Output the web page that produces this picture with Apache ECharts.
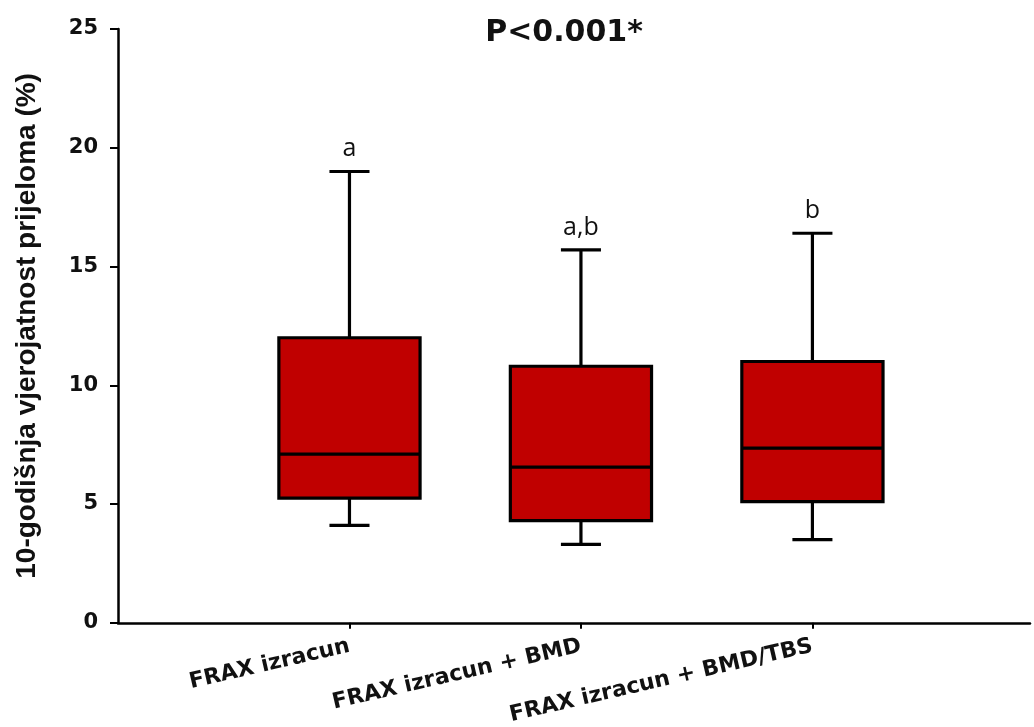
<!DOCTYPE html>
<html>
<head>
<meta charset="utf-8">
<script src="https://cdn.jsdelivr.net/npm/echarts@6/dist/echarts.min.js"></script>
<style>
html,body{margin:0;padding:0;background:#fff;}
#chart{width:1034px;height:727px;}
</style>
</head>
<body>
<div id="chart"></div>
<script>
// ---- data ----
var categories = ['FRAX izracun', 'FRAX izracun + BMD', 'FRAX izracun + BMD/TBS'];
var positions = [1, 2, 3];
var whiskerLow = [4.1, 3.3, 3.5];
var q1 = [5.25, 4.3, 5.1];
var median = [7.1, 6.55, 7.35];
var q3 = [12.0, 10.8, 11.0];
var whiskerHigh = [19.0, 15.7, 16.4];
var groupLetters = ['a', 'a,b', 'b'];
var yTicks = [0, 5, 10, 15, 20, 25];
var titleText = 'P<0.001*';
var yName = '10-godi\u0161nja vjerojatnost prijeloma (%)';

var boxData = positions.map(function (p, i) {
  return [p, whiskerLow[i], q1[i], median[i], q3[i], whiskerHigh[i]];
});

var BOX_FRAC = 0.61;
var CAP_FRAC = 0.173;
var LINE_W = 3.2;

var chart = echarts.init(document.getElementById('chart'));
var option = {
  backgroundColor: '#ffffff',
  animation: false,
  graphic: [{
    type: 'text',
    x: 564, y: 33,
    style: {
      text: titleText,
      font: 'bold 30px "DejaVu Sans", sans-serif',
      fill: '#111',
      textAlign: 'center',
      textVerticalAlign: 'middle'
    }
  }],
  grid: { left: 118, right: 4, top: 29, bottom: 104, containLabel: false },
  xAxis: {
    type: 'value',
    min: 0,
    max: 3.94,
    splitLine: { show: false },
    axisLine: { show: true, onZero: false, lineStyle: { color: '#000', width: 2.5 } },
    axisTick: { show: true, customValues: positions, length: 6, lineStyle: { color: '#000', width: 2 } },
    axisLabel: {
      show: true,
      customValues: positions,
      rotate: 13,
      margin: 23,
      fontFamily: '"DejaVu Sans", sans-serif',
      fontWeight: 'bold',
      fontSize: 22,
      color: '#111',
      formatter: function (v) { return categories[Math.round(v) - 1] || ''; }
    }
  },
  yAxis: {
    type: 'value',
    min: 0,
    max: 25,
    interval: 5,
    name: yName,
    nameLocation: 'middle',
    nameGap: 77,
    nameRotate: 90,
    nameTextStyle: {
      fontFamily: '"Liberation Sans", Arial, sans-serif',
      fontWeight: 'bold',
      fontSize: 28,
      color: '#111'
    },
    splitLine: { show: false },
    axisLine: { show: true, onZero: false, lineStyle: { color: '#000', width: 2.5 } },
    axisTick: { show: true, length: 8, lineStyle: { color: '#000', width: 2 } },
    axisLabel: {
      margin: 20,
      fontFamily: '"DejaVu Sans", sans-serif',
      fontWeight: 'bold',
      fontSize: 21,
      color: '#111',
      customValues: yTicks
    }
  },
  series: [{
    type: 'custom',
    clip: false,
    encode: { x: 0, y: [1, 2, 3, 4, 5] },
    data: boxData,
    renderItem: function (params, api) {
      var x = api.value(0);
      var pMin = api.coord([x, api.value(1)]);
      var pQ1 = api.coord([x, api.value(2)]);
      var pMed = api.coord([x, api.value(3)]);
      var pQ3 = api.coord([x, api.value(4)]);
      var pMax = api.coord([x, api.value(5)]);
      var unit = api.size([1, 0])[0];
      var bw = unit * BOX_FRAC;
      var cw = unit * CAP_FRAC;
      var cx = pMed[0];
      var ls = { stroke: '#000', lineWidth: LINE_W };
      return {
        type: 'group',
        children: [
          { type: 'line', shape: { x1: cx, y1: pQ3[1], x2: cx, y2: pMax[1] }, style: ls },
          { type: 'line', shape: { x1: cx, y1: pQ1[1], x2: cx, y2: pMin[1] }, style: ls },
          { type: 'line', shape: { x1: cx - cw / 2, y1: pMax[1], x2: cx + cw / 2, y2: pMax[1] }, style: ls },
          { type: 'line', shape: { x1: cx - cw / 2, y1: pMin[1], x2: cx + cw / 2, y2: pMin[1] }, style: ls },
          {
            type: 'rect',
            shape: { x: cx - bw / 2, y: pQ3[1], width: bw, height: pQ1[1] - pQ3[1] },
            style: { fill: '#c00000', stroke: '#000', lineWidth: LINE_W }
          },
          { type: 'line', shape: { x1: cx - bw / 2, y1: pMed[1], x2: cx + bw / 2, y2: pMed[1] }, style: ls },
          {
            type: 'text',
            x: cx, y: pMax[1] - 10,
            style: {
              text: groupLetters[params.dataIndex],
              font: '25px "Open Sans", sans-serif',
              fill: '#111',
              textAlign: 'center',
              textVerticalAlign: 'bottom'
            }
          }
        ]
      };
    }
  }]
};
chart.setOption(option);
</script>
</body>
</html>
